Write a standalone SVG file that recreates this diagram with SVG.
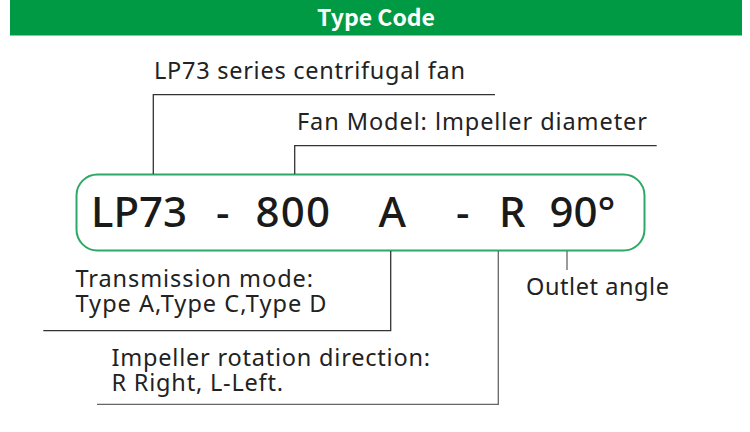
<svg xmlns="http://www.w3.org/2000/svg" width="750" height="432" viewBox="0 0 750 432">
<style>
.t{font-family:"Noto Sans",sans-serif;fill:#222;font-size:23.5px}
.big{font-family:"Noto Sans",sans-serif;fill:#1a1a1a;font-size:42px;font-weight:500}
.ln{stroke:#333;stroke-width:1.3;fill:none}
.ln2{stroke:#666;stroke-width:1.3;fill:none}
</style>
<rect width="750" height="432" fill="#fff"/>
<g id="header">
<rect x="10" y="0" width="732" height="35.5" fill="#009944"/>
<text x="376" y="26" text-anchor="middle" font-family="'Noto Sans CJK SC','Noto Sans',sans-serif" font-weight="bold" font-size="23" fill="#fff">Type Code</text>
</g>
<g id="code">
<rect x="76.5" y="174.5" width="568" height="76" rx="21" fill="#fff" stroke="#2ea866" stroke-width="2"/>
<text class="big" x="91" y="226.5" textLength="96" lengthAdjust="spacing">LP73</text>
<text class="big" x="216" y="226.5">-</text>
<text class="big" x="255.5" y="226.5" textLength="74.5" lengthAdjust="spacing">800</text>
<text class="big" x="378.5" y="226.5">A</text>
<text class="big" x="456" y="226.5">-</text>
<text class="big" x="499" y="226.5">R</text>
<text class="big" x="549.5" y="226.5" textLength="66" lengthAdjust="spacing">90°</text>
</g>
<g id="label-series"><text class="t" x="154" y="79" textLength="311" lengthAdjust="spacing">LP73 series centrifugal fan</text></g>
<g id="label-model"><text class="t" x="297" y="130" textLength="350" lengthAdjust="spacing">Fan Model: lmpeller diameter</text></g>
<g id="label-transmission"><text class="t" x="75.5" y="286.5" textLength="237.5" lengthAdjust="spacing">Transmission mode:</text><text class="t" x="75.5" y="311.5" textLength="251" lengthAdjust="spacing">Type A,Type C,Type D</text></g>
<g id="label-rotation"><text class="t" x="111.5" y="365.5" textLength="318.5" lengthAdjust="spacing">Impeller rotation direction:</text><text class="t" x="111.5" y="390.5" textLength="171.5" lengthAdjust="spacing">R Right, L-Left.</text></g>
<g id="label-outlet"><text class="t" x="526" y="295" textLength="143" lengthAdjust="spacing">Outlet angle</text></g>
<g id="connectors">
<polyline class="ln" points="495,94.7 153.3,94.7 153.3,174"/>
<polyline class="ln" points="656.7,145.7 294.7,145.7 294.7,174"/>
<polyline class="ln" points="390.7,251 390.7,330.7 43.3,330.7"/>
<polyline class="ln2" points="498.3,251 498.3,404.3 97,404.3"/>
<line class="ln2" x1="567" y1="251" x2="567" y2="270"/>
</g>
</svg>
